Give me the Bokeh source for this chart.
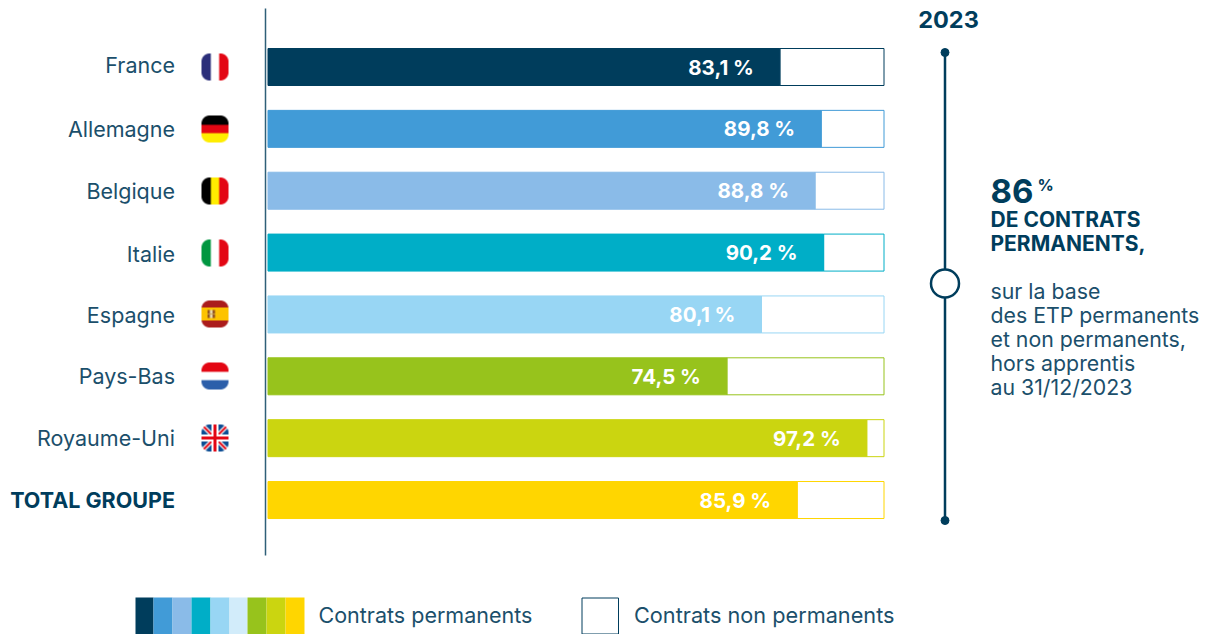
import numpy as np
from bokeh.core.properties import value
from bokeh.embed import file_html
from bokeh.models import Range1d
from bokeh.plotting import figure
from bokeh.resources import INLINE

countries = ["France", "Allemagne", "Belgique", "Italie", "Espagne", "Pays-Bas", "Royaume-Uni", "TOTAL GROUPE"]
permanents = [83.1, 89.8, 88.8, 90.2, 80.1, 74.5, 97.2, 85.9]
labels = ["83,1 %", "89,8 %", "88,8 %", "90,2 %", "80,1 %", "74,5 %", "97,2 %", "85,9 %"]
colors = ["#003d5c", "#419bd7", "#8abbe8", "#00aec7", "#98d6f4", "#97c31c", "#cbd510", "#ffd600"]
legend_colors = ["#003d5c", "#419bd7", "#8abbe8", "#00aec7", "#98d6f4", "#d2ecfa", "#97c31c", "#cbd510", "#ffd600"]
legend_labels = ["Contrats permanents", "Contrats non permanents"]
year = "2023"
headline = "86"
headline_unit = "%"
bold_lines = ["DE CONTRATS", "PERMANENTS,"]
note_lines = ["sur la base", "des ETP permanents", "et non permanents,", "hors apprentis", "au 31/12/2023"]

INK = "#003d5c"
TEXT = "#1b4f6b"
FONT = "Inter"
W, H = 1206, 634
X0, X100 = 267.5, 883.5
Y_FIRST, STEP = 66.5, 61.86
n = len(countries)
rows = [n - 1 - i for i in range(n)]


def px(sx):
    return (sx - X0) * 100 / (X100 - X0)


def py(sy):
    return (n - 1) - (sy - Y_FIRST) / STEP


p = figure(width=W, height=H, output_backend="svg", toolbar_location=None,
           x_range=Range1d(px(0), px(W)), y_range=Range1d(py(H), py(0)),
           min_border=0, outline_line_color=None, background_fill_color="white")
p.xaxis.visible = False
p.yaxis.visible = False
p.grid.visible = False


def txt(x, y, t, size, bold=False, color=TEXT, align="left"):
    p.text(x=[px(x)], y=[py(y)], text=[t], text_font=value(FONT), text_font_size=f"{size}px",
           text_font_style="bold" if bold else "normal", text_color=color,
           text_align=align, text_baseline="middle")


# bars
h = 37 / STEP
remainder = [100 - v for v in permanents]
p.hbar(y=rows, left=permanents, right=[v + r for v, r in zip(permanents, remainder)], height=h,
       fill_color="white", line_color=colors, line_width=1)
p.hbar(y=rows, left=0, right=permanents, height=h, fill_color=colors, line_color=colors, line_width=1)
p.text(x=permanents, y=rows, text=labels, x_offset=-26, text_align="right", text_baseline="middle",
       text_font=value(FONT), text_font_size="20.5px", text_font_style="bold", text_color="white")

# axis line
p.segment(x0=[px(265)], x1=[px(265)], y0=[py(8)], y1=[py(555)], line_color="#2f5f78", line_width=1.5)

# country labels
label_nudges = [-2, 0, 0, 1, 1, 0, 0, 0]
for i, c in enumerate(countries):
    last = i == n - 1
    p.text(x=[px(174.5)], y=[rows[i]], y_offset=label_nudges[i], text=[c], text_align="right",
           text_baseline="middle", text_font=value(FONT), text_font_size="21.5px",
           text_font_style="bold" if last else "normal", text_color=INK if last else TEXT)


# flags
def flag(kind, size=28, ss=6):
    N = size * ss
    c = (np.arange(N) + .5) / N
    X, Y = np.meshgrid(c, c)  # Y goes downward
    img = np.ones((N, N, 3)) * 255

    def put(mask, col):
        img[mask] = [int(col[i:i + 2], 16) for i in (1, 3, 5)]
    if kind == "fr":
        put(X < 1 / 3, "#2b2e7a"); put(X > 2 / 3, "#e30613")
    elif kind == "de":
        put(Y < 1 / 3, "#000000"); put((Y >= 1 / 3) & (Y < 2 / 3), "#e30613"); put(Y >= 2 / 3, "#ffed00")
    elif kind == "be":
        put(X < 1 / 3, "#000000"); put((X >= 1 / 3) & (X < 2 / 3), "#ffed00"); put(X >= 2 / 3, "#e30613")
    elif kind == "it":
        put(X < 1 / 3, "#009640"); put(X > 2 / 3, "#e30613")
    elif kind == "es":
        put((Y < .25) | (Y > .75), "#ab1c1c"); put((Y >= .25) & (Y <= .75), "#fdc300")
        put((np.abs(X - .35) < .13) & (np.abs(Y - .5) < .16), "#8a4a1c")
        put((np.abs(X - .35) < .05) & (np.abs(Y - .5) < .16), "#e8d9b0")
        put((np.abs(X - .35) < .13) & (np.abs(Y - .5) < .03), "#c9a24e")
    elif kind == "nl":
        put(Y < 1 / 3, "#e30613"); put(Y > 2 / 3, "#2c5faa")
    elif kind == "uk":
        put(np.ones_like(X, bool), "#0a4c93")
        d1, d2 = np.abs(X - Y), np.abs(X + Y - 1)
        put((d1 < .11) | (d2 < .11), "#ffffff")
        put((d1 < .05) | (d2 < .05), "#e30613")
        put((np.abs(X - .5) < .14) | (np.abs(Y - .5) < .14), "#ffffff")
        put((np.abs(X - .5) < .07) | (np.abs(Y - .5) < .07), "#e30613")
    # rounded square mask
    r = 8 / size
    qx = np.maximum(np.abs(X - .5) - (.5 - r), 0)
    qy = np.maximum(np.abs(Y - .5) - (.5 - r), 0)
    a = (qx ** 2 + qy ** 2 <= r ** 2).astype(float)
    rgba = np.dstack([img, a * 255])
    rgba = rgba.reshape(size, ss, size, ss, 4).mean(axis=(1, 3)).astype(np.uint8)
    out = np.zeros((size, size), dtype=np.uint32)
    view = out.view(np.uint8).reshape(size, size, 4)
    view[:, :, :] = rgba[::-1]
    return out


flag_kinds = ["fr", "de", "be", "it", "es", "nl", "uk"]
flag_tops = [53, 115, 177, 239, 300, 362, 424]
for k, t in zip(flag_kinds, flag_tops):
    p.image_rgba(image=[flag(k)], x=[px(201)], y=[py(t + 27)], dw=[px(228) - px(201)], dh=[py(t) - py(t + 27)])

# timeline
p.segment(x0=[px(944.5)], x1=[px(944.5)], y0=[py(52)], y1=[py(520)], line_color=INK, line_width=2.5)
p.scatter(x=[px(944.5), px(944.5)], y=[py(52), py(520)], size=8, fill_color=INK, line_color=INK)
p.scatter(x=[px(944.5)], y=[py(283)], size=28, fill_color="white", line_color=INK, line_width=2.5)
txt(948, 18.5, year, 23.5, True, INK, "center")

# key figure
txt(990, 190, headline, 33, True, INK)
txt(1037, 184, headline_unit, 16, True, INK)
for t, y in zip(bold_lines, [218.5, 242.5]):
    txt(990, y, t, 21, True, INK)
for t, y in zip(note_lines, [290, 314, 338, 362, 386]):
    txt(990, y, t, 21.3)

# legend
edges = [135, 153, 172, 191, 210, 229, 247, 266, 285, 304]
p.quad(left=[px(e) for e in edges[:-1]], right=[px(e) for e in edges[1:]], top=py(597), bottom=py(634),
       fill_color=legend_colors, line_color=None)
p.quad(left=[px(581.5)], right=[px(618)], top=[py(597.5)], bottom=[py(633.5)], fill_color="white",
       line_color=INK, line_width=1)
txt(318, 614, legend_labels[0], 21.5)
txt(633.5, 614, legend_labels[1], 21.7)

open("out.html", "w").write(file_html(p, INLINE))
